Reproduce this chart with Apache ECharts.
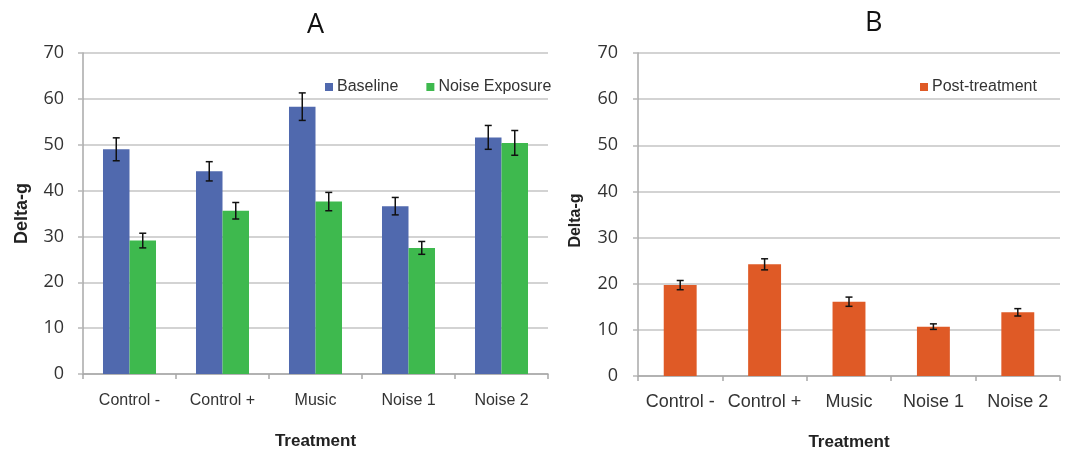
<!DOCTYPE html>
<html>
<head>
<meta charset="utf-8">
<script src="https://cdn.jsdelivr.net/npm/echarts@6/dist/echarts.min.js"></script>
<style>html,body{margin:0;padding:0;background:#fff}#c{width:1070px;height:449px}</style>
</head>
<body>
<div id="c"></div>
<script>
const categories = ['Control -', 'Control +', 'Music', 'Noise 1', 'Noise 2'];
const baseline = [49.0, 44.2, 58.3, 36.6, 51.6];
const baselineErr = [2.5, 2.1, 3.0, 1.9, 2.6];
const noiseExposure = [29.1, 35.6, 37.6, 27.5, 50.4];
const noiseExposureErr = [1.6, 1.8, 2.0, 1.4, 2.7];
const postTreatment = [19.7, 24.2, 16.1, 10.7, 13.8];
const postTreatmentErr = [1.0, 1.2, 1.0, 0.6, 0.8];
const yTicks = [0, 10, 20, 30, 40, 50, 60, 70];

const BLUE = '#5069AE', GREEN = '#3EB94E', ORANGE = '#DF5A26';
const gapA = 0.43, gapB = 0.61;

function errSeries(name, xi, yi, vals, errs, offsetSign, gap, nBars) {
  return {
    type: 'custom', name: name, xAxisIndex: xi, yAxisIndex: yi, z: 10,
    silent: true,
    data: vals.map((v, i) => [i, v - errs[i], v + errs[i]]),
    renderItem: function (params, api) {
      const lo = api.coord([api.value(0), api.value(1)]);
      const hi = api.coord([api.value(0), api.value(2)]);
      const catW = api.size([1, 0])[0];
      const bw = catW * (1 - gap) / nBars;
      const x = lo[0] + offsetSign * bw / 2;
      const cap = 3.5;
      const st = { stroke: '#111', lineWidth: 1.5 };
      return { type: 'group', children: [
        { type: 'line', shape: { x1: x, y1: lo[1], x2: x, y2: hi[1] }, style: st },
        { type: 'line', shape: { x1: x - cap, y1: lo[1], x2: x + cap, y2: lo[1] }, style: st },
        { type: 'line', shape: { x1: x - cap, y1: hi[1], x2: x + cap, y2: hi[1] }, style: st }
      ]};
    }
  };
}

function xAxis(gi, fs, margin, nameGap) {
  return {
    type: 'category', gridIndex: gi, data: categories,
    axisLine: { lineStyle: { color: '#a8a8a8', width: 1.5 } },
    axisTick: { show: true, interval: 0, length: 5, lineStyle: { color: '#a8a8a8', width: 1.5 } },
    axisLabel: { interval: 0, hideOverlap: false, fontFamily: 'Liberation Sans', fontSize: fs, color: '#333', margin: margin },
    name: 'Treatment', nameLocation: 'middle', nameGap: nameGap,
    nameTextStyle: { fontFamily: 'Liberation Sans', fontWeight: 'bold', fontSize: 17, color: '#222' }
  };
}
function yAxis(gi, labelMargin, nameGap, nameFs, namePad) {
  return {
    type: 'value', gridIndex: gi, min: yTicks[0], max: yTicks[yTicks.length - 1], interval: 10,
    axisLine: { show: true, lineStyle: { color: '#a8a8a8', width: 1.5 } },
    axisTick: { show: true, length: 5, lineStyle: { color: '#b8b8b8', width: 1.5 } },
    splitLine: { lineStyle: { color: '#c4c4c4', width: 1.5 } },
    axisLabel: { fontFamily: 'Open Sans', fontSize: 18, color: '#333', margin: labelMargin },
    name: 'Delta-g', nameLocation: 'middle', nameGap: nameGap, nameRotate: 90,
    nameTextStyle: { fontFamily: 'Liberation Sans', fontWeight: 'bold', fontSize: nameFs, color: '#222', padding: namePad }
  };
}

const chart = echarts.init(document.getElementById('c'), null, { renderer: 'canvas' });
chart.setOption({
  animation: false,
  backgroundColor: '#fff',
  title: [
    { text: 'A', left: 302, top: 7, textStyle: { fontFamily: 'Open Sans', fontWeight: 'normal', fontSize: 27, color: '#111' } },
    { text: 'B', left: 860, top: 5, textStyle: { fontFamily: 'Open Sans', fontWeight: 'normal', fontSize: 27, color: '#111' } }
  ],
  legend: [
    { data: ['Baseline', 'Noise Exposure'], left: 325, top: 79, icon: 'rect', itemWidth: 8, itemHeight: 8, itemGap: 28, padding: 0,
      textStyle: { fontFamily: 'Liberation Sans', fontSize: 16, color: '#333', padding: [0, 0, 0, -1] } },
    { data: ['Post-treatment'], left: 920, top: 79, icon: 'rect', itemWidth: 8, itemHeight: 8, padding: 0,
      textStyle: { fontFamily: 'Liberation Sans', fontSize: 16, color: '#333', padding: [0, 0, 0, -1] } }
  ],
  grid: [
    { left: 83, right: 522, top: 53, bottom: 75, outerBoundsMode: 'none', containLabel: false },
    { left: 638, right: 10, top: 53, bottom: 73, outerBoundsMode: 'none', containLabel: false }
  ],
  xAxis: [xAxis(0, 16, 19, 59), xAxis(1, 18, 17, 58)],
  yAxis: [yAxis(0, 19, 52, 18, [0, 0, 0, 0]), yAxis(1, 20, 54, 16, [0, 12, 0, 0])],
  series: [
    { type: 'bar', name: 'Baseline', xAxisIndex: 0, yAxisIndex: 0, data: baseline, barGap: '0%', barCategoryGap: '43%',
      itemStyle: { color: BLUE } },
    { type: 'bar', name: 'Noise Exposure', xAxisIndex: 0, yAxisIndex: 0, data: noiseExposure, barGap: '0%', barCategoryGap: '43%',
      itemStyle: { color: GREEN } },
    { type: 'bar', name: 'Post-treatment', xAxisIndex: 1, yAxisIndex: 1, data: postTreatment, barCategoryGap: '61%',
      itemStyle: { color: ORANGE } },
    errSeries('errBase', 0, 0, baseline, baselineErr, -1, gapA, 2),
    errSeries('errNoise', 0, 0, noiseExposure, noiseExposureErr, 1, gapA, 2),
    errSeries('errPost', 1, 1, postTreatment, postTreatmentErr, 0, gapB, 1)
  ]
});
</script>
</body>
</html>
